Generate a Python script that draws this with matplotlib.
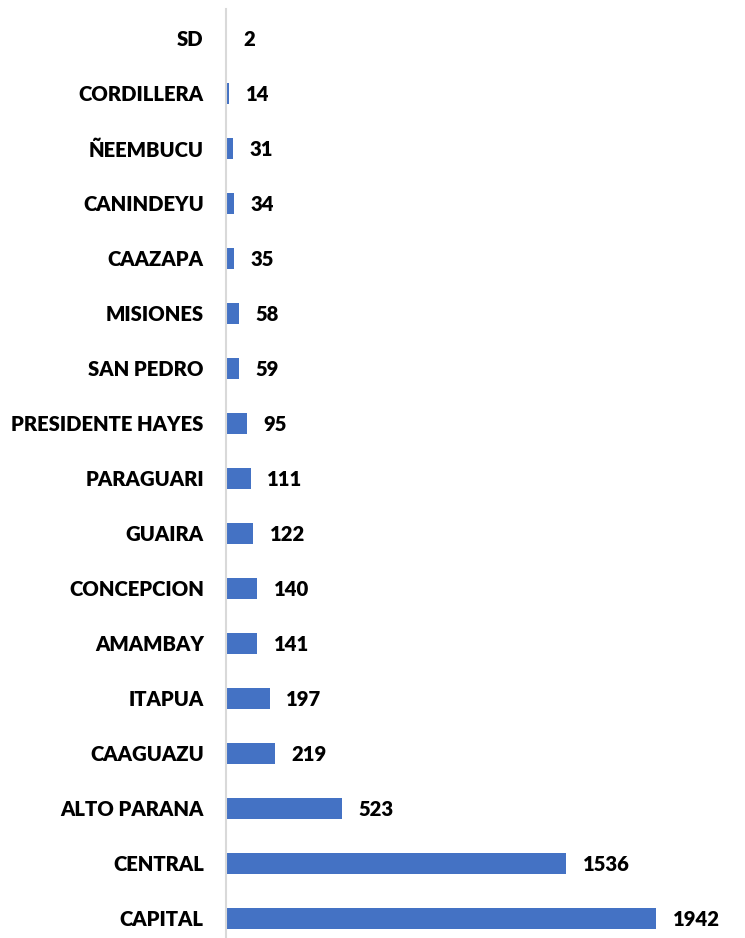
import matplotlib
matplotlib.use('Agg')
import matplotlib.pyplot as plt

departments = ['CAPITAL', 'CENTRAL', 'ALTO PARANA', 'CAAGUAZU', 'ITAPUA', 'AMAMBAY',
               'CONCEPCION', 'GUAIRA', 'PARAGUARI', 'PRESIDENTE HAYES', 'SAN PEDRO',
               'MISIONES', 'CAAZAPA', 'CANINDEYU', 'ÑEEMBUCU', 'CORDILLERA', 'SD']
counts = [1942, 1536, 523, 219, 197, 141, 140, 122, 111, 95, 59, 58, 35, 34, 31, 14, 2]

BAR_COLOR = '#4472C4'
FONT = ['Lato', 'DejaVu Sans']
FS = 14.6

W, H = 745, 938
fig = plt.figure(figsize=(W / 100, H / 100), dpi=100)
ax = fig.add_axes([226 / W, 0, 1 - 226 / W, (H - 9) / H])

y = list(range(len(departments)))
ax.barh(y, counts, height=0.39, color=BAR_COLOR)

# value labels just past the bar end
for yi, v in zip(y, counts):
    ax.annotate(str(v), (v, yi), xytext=(12, -1), textcoords='offset points',
                ha='left', va='center', fontsize=FS, fontweight='heavy',
                family=FONT, color='black')

ax.set_yticks(y)
ax.set_yticklabels(departments, fontsize=FS, fontweight='heavy', family=FONT)
ax.tick_params(axis='y', length=0, pad=16)
ax.set_xticks([])
ax.set_xlim(0, 2343)
ax.set_ylim(-0.355, 16.536)

for s in ['top', 'right', 'bottom']:
    ax.spines[s].set_visible(False)
ax.spines['left'].set_color('#D9D9D9')
ax.spines['left'].set_linewidth(1.5)

fig.savefig('out.png', dpi=100)
